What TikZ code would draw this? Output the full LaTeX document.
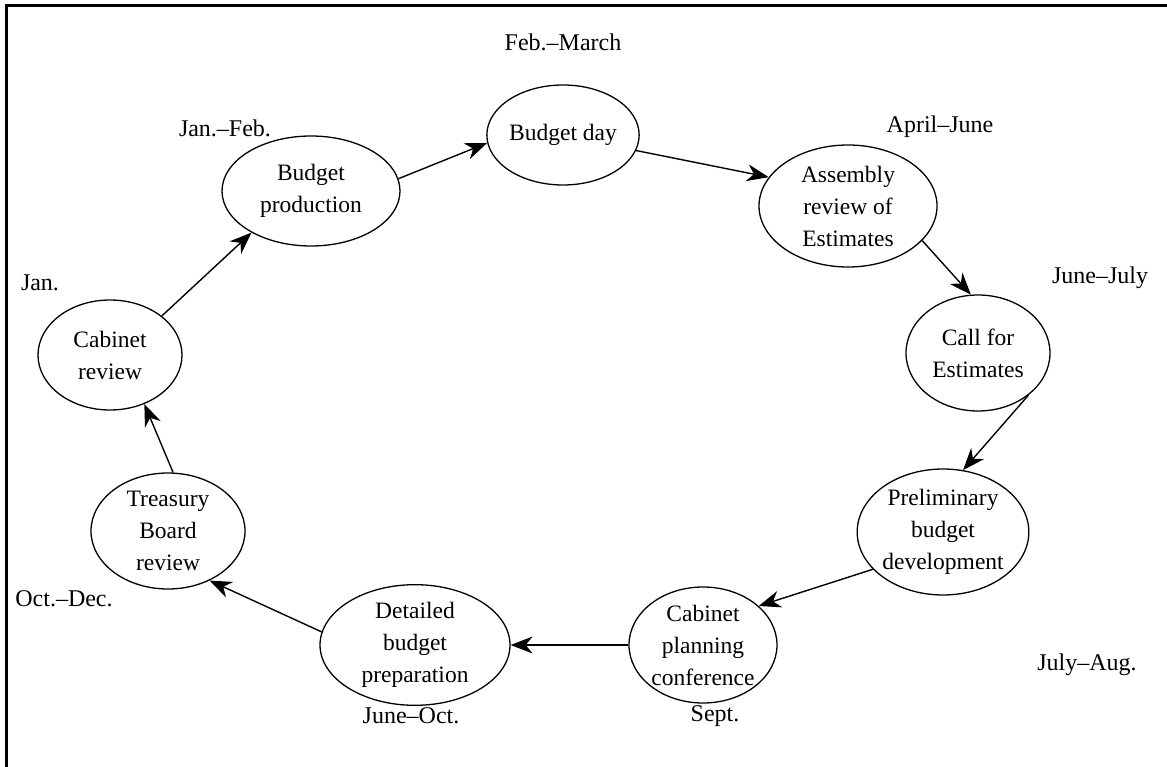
\documentclass[tikz,border=0pt]{standalone}
\usepackage{fontspec}
\setmainfont{Liberation Serif}
\usetikzlibrary{shapes.geometric,arrows.meta}
\begin{document}
\begin{tikzpicture}[x=1pt,y=-1pt,
  stage/.style={draw,ellipse,line width=1.3pt,inner sep=0pt,align=center,
    font=\fontsize{23.5}{32}\selectfont},
  lbl/.style={font=\fontsize{24}{32}\selectfont,inner sep=0pt},
  flow/.style={line width=1.4pt,-{Stealth[length=22pt,width=17pt,inset=7pt]}}]
\useasboundingbox (0,0) rectangle (1167,767);
\draw[line width=3pt] (6,767) -- (6,6) -- (1167,6);

\node[stage,minimum width=148pt,minimum height=100pt] (day) at (563,135) {Budget day};
\node[stage,minimum width=178pt,minimum height=110pt] (prod) at (311,191) {Budget\\production};
\node[stage,minimum width=178pt,minimum height=122pt] (asm) at (848,206) {Assembly\\review of\\Estimates};
\node[stage,minimum width=144pt,minimum height=116pt] (call) at (978,353) {Call for\\Estimates};
\node[stage,minimum width=160pt,minimum height=126pt] (pre) at (943,532) {Preliminary\\budget\\development};
\node[stage,minimum width=148pt,minimum height=116pt] (plan) at (703,645) {Cabinet\\planning\\conference};
\node[stage,minimum width=190pt,minimum height=116pt] (det) at (415,645) {Detailed\\budget\\preparation};
\node[stage,minimum width=154pt,minimum height=116pt] (tb) at (168,531) {Treasury\\Board\\review};
\node[stage,minimum width=144pt,minimum height=110pt] (cab) at (110,355) {Cabinet\\review};

\node[lbl] (l1) at (563,42) {Feb.–March};
\node[lbl] (l2) at (225,128) {Jan.–Feb.};
\node[lbl] (l3) at (940,127) {April–June};
\node[lbl] (l4) at (40,283) {Jan.};
\node[lbl] (l5) at (1100,278) {June–July};
\node[lbl] (l6) at (64,599) {Oct.–Dec.};
\node[lbl] (l7) at (1087,665) {July–Aug.};
\node[lbl] (l8) at (411,716) {June–Oct.};
\node[lbl] (l9) at (715,716) {Sept.};

\draw[flow] (prod.8) -- (day.186);
\draw[flow] (day.-12) -- (asm.160);
\draw[flow] (asm.-25) -- (call.97);
\draw[flow] (call.-40) -- (pre.72);
\draw[flow] (pre.208) -- (plan.35);
\draw[flow] (plan) -- (det);
\draw[flow] (det.172) -- (tb.-50);
\draw[flow] (tb.85) -- (cab.-55);
\draw[flow] (cab.37) -- (prod.215);
\end{tikzpicture}
\end{document}
